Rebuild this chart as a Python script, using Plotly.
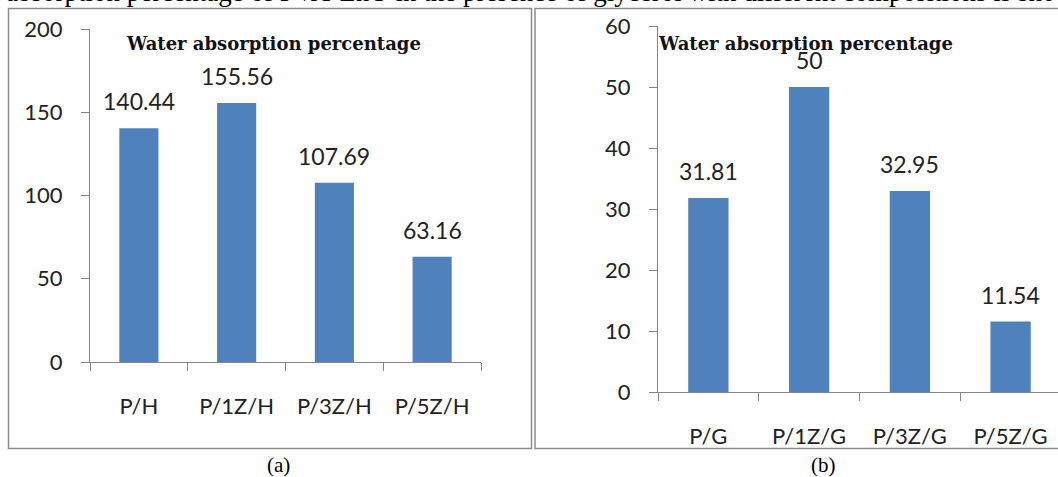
import plotly.graph_objects as go

W, H = 1058, 477

# Water absorption (%) of PVA/ZnO films plasticised with H and with glycerol (G)
cats_h = ["P/H", "P/1Z/H", "P/3Z/H", "P/5Z/H"]
vals_h = [140.44, 155.56, 107.69, 63.16]
cats_g = ["P/G", "P/1Z/G", "P/3Z/G", "P/5Z/G"]
vals_g = [31.81, 50, 32.95, 11.54]
ticks_h = [0, 50, 100, 150, 200]
ticks_g = [0, 10, 20, 30, 40, 50, 60]
title_txt = "Water absorption percentage"
caption_txt = ("absorption percentage of PVA-ZnO in the presence of glycerol "
               "with different compositions is shown")

BAR = "#4F81BD"
AXIS = "#868686"
TXT = "#222222"
SANS = "Lato, Carlito, Calibri, sans-serif"
SERIF = "Liberation Serif, Times New Roman, serif"
TITLE_FONT = "DejaVu Serif, Cambria, serif"


def fx(x):
    return x / W


def fy(y):
    return 1 - y / H


fig = go.Figure()
fig.add_trace(go.Bar(x=cats_h, y=vals_h, marker=dict(color=BAR, line=dict(width=0)),
                     xaxis="x", yaxis="y", showlegend=False))
fig.add_trace(go.Bar(x=cats_g, y=vals_g, marker=dict(color=BAR, line=dict(width=0)),
                     xaxis="x2", yaxis="y2", showlegend=False))

common_x = dict(type="category", showline=True, linecolor=AXIS, linewidth=1,
                ticks="outside", tickson="boundaries", ticklen=8, tickcolor=AXIS,
                showgrid=False, zeroline=False, ticklabelstandoff=25,
                tickfont=dict(family=SANS, size=22, color=TXT), fixedrange=True)
common_y = dict(showline=True, linecolor=AXIS, linewidth=1, ticks="outside",
                ticklen=8, tickcolor=AXIS, showgrid=False, zeroline=False,
                ticklabelstandoff=14,
                tickfont=dict(family=SANS, size=22, color=TXT), fixedrange=True)

fig.update_layout(
    width=W, height=H,
    margin=dict(l=0, r=0, t=0, b=0, pad=0, autoexpand=False),
    paper_bgcolor="white", plot_bgcolor="white", bargap=0.6,
    xaxis=dict(common_x, domain=[fx(90), fx(481)], anchor="y", range=[-0.5, 3.5]),
    yaxis=dict(common_y, domain=[fy(362), fy(29)], anchor="x", range=[0, 200],
               tickvals=ticks_h),
    xaxis2=dict(common_x, domain=[fx(658), 1], anchor="y2",
                range=[-0.5, 3.5 - 3 / 101]),
    yaxis2=dict(common_y, domain=[fy(392), fy(26)], anchor="x2", range=[0, 60],
                tickvals=ticks_g),
)

# value labels above each bar
ann = []
for c, v in zip(cats_h, vals_h):
    ann.append(dict(x=c, y=v, xref="x", yref="y", text=f"{v:g}", showarrow=False,
                    yanchor="bottom", yshift=11,
                    font=dict(family=SANS, size=23, color=TXT)))
for c, v in zip(cats_g, vals_g):
    ann.append(dict(x=c, y=v, xref="x2", yref="y2", text=f"{v:g}", showarrow=False,
                    yanchor="bottom", yshift=11,
                    font=dict(family=SANS, size=23, color=TXT)))

# panel titles
for x0 in (124, 656):
    ann.append(dict(x=fx(x0), y=fy(43), xref="paper", yref="paper",
                    text=f"<b>{title_txt}</b>",
                    showarrow=False, xanchor="left", yanchor="middle",
                    font=dict(family=TITLE_FONT, size=18, color="#111111")))

# panel captions
for x0, lab in ((265, "(a)"), (838, "(b)")):
    ann.append(dict(x=fx(x0), y=0, xref="paper", yref="paper", text=lab,
                    showarrow=False, yanchor="bottom", yshift=-2,
                    font=dict(family=SERIF, size=21, color="black")))

# running text line above the panels
ann.append(dict(x=fx(4), y=fy(9), xref="paper", yref="paper", text=caption_txt,
                showarrow=False, xanchor="left", yanchor="bottom",
                font=dict(family=SERIF, size=27, color="black")))

fig.update_layout(annotations=ann)

# panel frames
fig.add_shape(type="rect", xref="paper", yref="paper",
              x0=fx(8.5), x1=fx(531.5), y0=fy(448.5), y1=fy(8.5),
              line=dict(color="#8C8C8C", width=1.5), layer="below")
fig.add_shape(type="rect", xref="paper", yref="paper",
              x0=fx(535), x1=fx(1070), y0=fy(448.5), y1=fy(8.5),
              line=dict(color="#8C8C8C", width=1.5), layer="below")

fig.write_html("out.html")
